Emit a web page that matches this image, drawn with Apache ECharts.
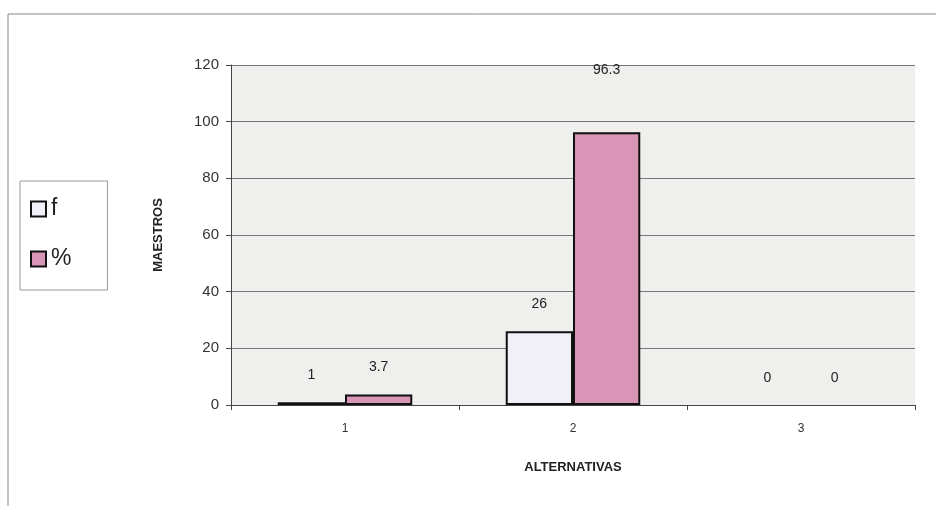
<!DOCTYPE html>
<html>
<head>
<meta charset="utf-8">
<script src="https://cdn.jsdelivr.net/npm/echarts@6/dist/echarts.min.js"></script>
<style>
  html, body { margin: 0; padding: 0; background: #fff; }
  #chart { width: 936px; height: 506px; }
</style>
</head>
<body>
<div id="chart"></div>
<script>
// datos
const categories = ['1', '2', '3']
const fValues = [1, 26, 0]
const pctValues = [3.7, 96.3, 0]
const yTicks = [0, 20, 40, 60, 80, 100, 120]

let myChart = echarts.init(document.getElementById('chart'))

// las barras en cero no se ven en el original
function toData (values, raised) {
  return values.map(function (v, i) {
    let item = { value: v }
    if (v === 0) item.itemStyle = { borderWidth: 0 }
    // Excel puso la etiqueta 96.3 más arriba que las demás
    if (i === raised) item.label = { distance: 55 }
    return item
  })
}

myChart.setOption({
  animation: false,
  textStyle: { fontFamily: 'Liberation Sans, Arial, sans-serif' },
  graphic: [
    {
      type: 'rect',
      shape: { x: 8, y: 14, width: 960, height: 520 },
      style: { fill: 'none', stroke: '#888', lineWidth: 1 }
    }
  ],
  legend: {
    orient: 'vertical',
    left: 20,
    top: 181,
    padding: [15, 36, 18, 10],
    itemGap: 24,
    itemWidth: 15,
    itemHeight: 15,
    icon: 'rect',
    borderColor: '#999',
    borderWidth: 1,
    textStyle: { fontSize: 23, lineHeight: 26, color: '#222' },
    data: ['f', '%']
  },
  grid: {
    left: 231,
    right: 21,
    top: 65,
    bottom: 101,
    show: true,
    backgroundColor: '#efefed',
    borderWidth: 0
  },
  xAxis: {
    type: 'category',
    data: categories,
    name: 'ALTERNATIVAS',
    nameLocation: 'middle',
    nameGap: 56,
    nameTextStyle: { fontSize: 13, fontWeight: 'bold', color: '#222' },
    axisLine: { lineStyle: { color: '#444', width: 1 } },
    axisTick: { show: true, length: 5, lineStyle: { color: '#444' } },
    axisLabel: { fontSize: 12, color: '#333', margin: 18 }
  },
  yAxis: {
    type: 'value',
    min: yTicks[0],
    max: yTicks[yTicks.length - 1],
    interval: yTicks[1] - yTicks[0],
    name: 'MAESTROS',
    nameLocation: 'middle',
    nameGap: 66,
    nameRotate: 90,
    nameTextStyle: { fontSize: 13, fontWeight: 'bold', color: '#222' },
    axisLine: { show: true, lineStyle: { color: '#444', width: 1 } },
    axisTick: { show: true, length: 5, lineStyle: { color: '#444' } },
    axisLabel: { fontSize: 15, color: '#333', margin: 12 },
    splitLine: { show: true, lineStyle: { color: '#777', width: 1 } }
  },
  series: [
    {
      name: 'f',
      type: 'bar',
      data: toData(fValues, -1),
      barGap: '0%',
      barCategoryGap: '41%',
      itemStyle: { color: '#f1f0f8', borderColor: '#111', borderWidth: 2 },
      label: { show: true, position: 'top', distance: 20, fontSize: 14, color: '#222' }
    },
    {
      name: '%',
      type: 'bar',
      data: toData(pctValues, 1),
      itemStyle: { color: '#d895b6', borderColor: '#111', borderWidth: 2 },
      label: { show: true, position: 'top', distance: 20, fontSize: 14, color: '#222' }
    }
  ]
})
myChart.resize()
</script>
</body>
</html>
